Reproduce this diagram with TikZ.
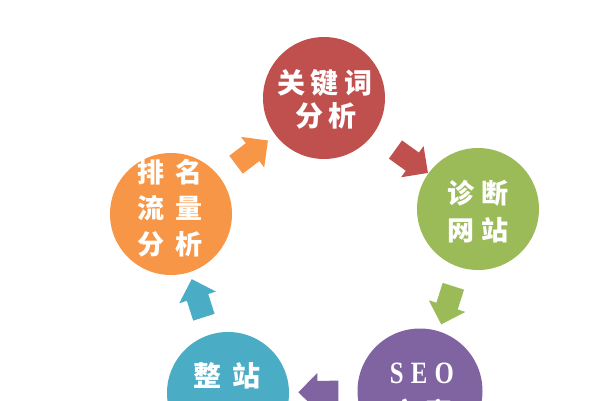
\documentclass[tikz,border=0pt]{standalone}
\usepackage{fontspec}
\setmainfont{Liberation Serif}
\newfontfamily\cjk{Noto Sans CJK SC}
\usetikzlibrary{shapes.arrows,calc}
\definecolor{kred}{HTML}{C0504D}
\definecolor{kgreen}{HTML}{9BBB59}
\definecolor{kpurple}{HTML}{8064A2}
\definecolor{kblue}{HTML}{4BACC6}
\definecolor{korange}{HTML}{F79646}
\newcommand\flowarrow[5]{%
  \path let \p1=($(#2)-(#1)$), \n1={atan2(\y1,\x1)} in
    node[flow, fill=#3, rotate=\n1] (#4) at ($(#1)!#5!(#2)$) {};}
\begin{document}
\begin{tikzpicture}[x=1pt,y=-1pt,
  bubble/.style={circle, inner sep=0, minimum size=122pt, draw=none},
  lbl/.style={text=white, font=\cjk\bfseries\fontsize{27}{33}\selectfont, inner sep=0, anchor=center},
  flow/.style={single arrow, inner sep=0, text height=22pt, text depth=0pt, text width=0pt,
    minimum height=40pt, single arrow head extend=8pt, draw=none}]
\useasboundingbox (0,0) rectangle (600,400);
\fill[white] (0,0) rectangle (600,400);
\clip (0,0) rectangle (600,400);

\node[bubble, fill=kred] (kw) at (324,98) {};
\node[bubble, fill=kgreen] (zd) at (478,209) {};
\node[bubble, fill=kpurple, minimum size=125pt] (seo) at (420,391) {};
\node[bubble, fill=kblue] (zz) at (228,393) {};
\node[bubble, fill=korange] (pm) at (171,214) {};

\node[lbl, font=\cjk\bfseries\fontsize{28}{33}\selectfont] (kw1) at (325,83) {关\hspace{6pt}键\hspace{6pt}词};
\node[lbl, font=\cjk\bfseries\fontsize{28}{33}\selectfont] (kw2) at (326,116) {分\hspace{5pt}析};

\node[lbl] (zd1) at (478,193) {诊\hspace{8pt}断};
\node[lbl] (zd2) at (478,230) {网\hspace{8pt}站};

\node[lbl] (pm1) at (170,172) {排\hspace{11pt}名};
\node[lbl] (pm2) at (170,208) {流\hspace{11pt}量};
\node[lbl] (pm3) at (170,244) {分\hspace{11pt}析};

\node[lbl, font=\cjk\bfseries\fontsize{28}{33}\selectfont] (zz1) at (227,376) {整\hspace{12pt}站};

\node[lbl, font=\bfseries\fontsize{31}{33}\selectfont] (seo1) at (422,373) {\scalebox{0.8}[1]{S\hspace{9pt}E\hspace{9pt}O}};
\node[lbl] (seo2) at (422,412) {方\hspace{8pt}案};

\flowarrow{kw}{zd}{kred}{a1}{0.54}
\flowarrow{zd}{seo}{kgreen}{a2}{0.5}
\flowarrow{seo}{zz}{kpurple}{a3}{0.5}
\flowarrow{zz}{pm}{kblue}{a4}{0.5}
\flowarrow{pm}{kw}{korange}{a5}{0.5}
\end{tikzpicture}
\end{document}
